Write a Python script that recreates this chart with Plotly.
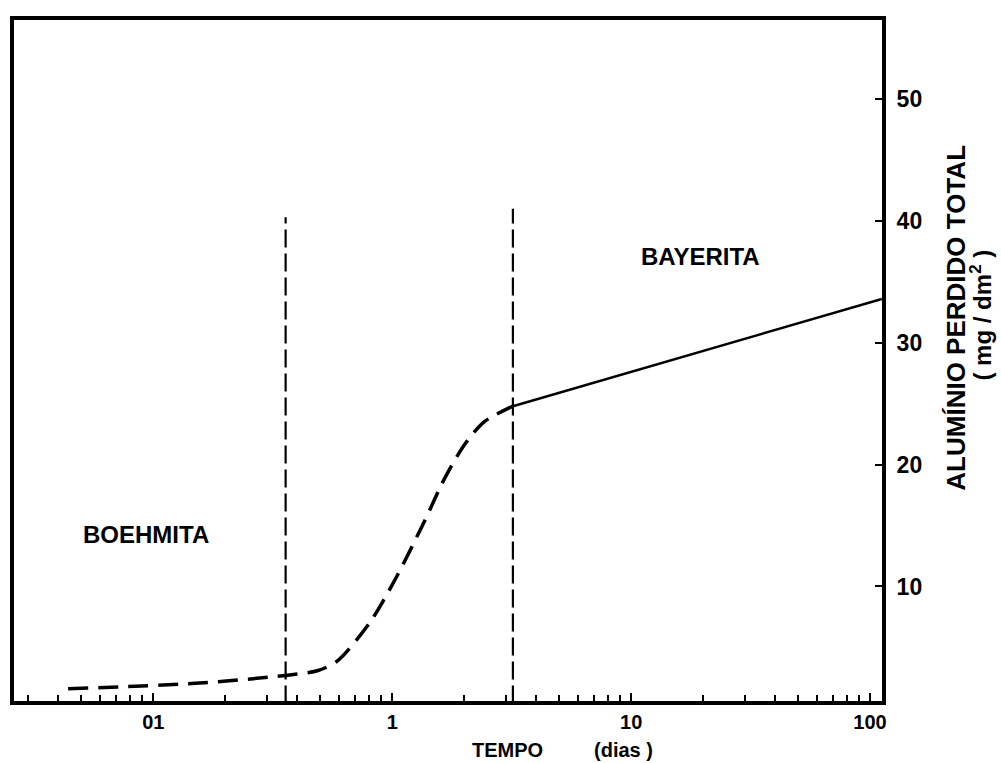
import plotly.graph_objects as go

# Data
dashed_x = [0.044, 0.15, 0.358, 0.49, 0.59, 0.81, 1.05, 1.36, 1.66, 2.0, 2.42, 3.2]
dashed_y = [1.6, 2.05, 2.7, 3.1, 3.9, 7.1, 10.9, 15.3, 18.9, 21.6, 23.5, 24.8]
solid_x = [3.2, 112]
solid_y = [24.8, 33.6]
boundary1_x = [0.358, 0.358]
boundary1_y = [0.4, 40.3]
boundary2_x = [3.2, 3.2]
boundary2_y = [0.4, 41.0]

major_ticks = [0.1, 1, 10, 100]
major_labels = ["01", "1", "10", "100"]
minor_ticks = [0.03, 0.04, 0.05, 0.06, 0.07, 0.08, 0.09,
               0.2, 0.3, 0.4, 0.5, 0.6, 0.7, 0.8, 0.9,
               2, 3, 4, 5, 6, 7, 8, 9,
               20, 30, 40, 50, 60, 70, 80, 90]
y_ticks = [10, 20, 30, 40, 50]

FONT = "Liberation Sans"
TOP, BOTTOM = 20, 62
PH = 763 - TOP - BOTTOM
AXIS_Y = 763 - BOTTOM

fig = go.Figure()
fig.add_trace(go.Scatter(x=boundary1_x, y=boundary1_y, mode="lines",
                         line=dict(color="black", width=2.2, dash="18px,6px"), showlegend=False))
fig.add_trace(go.Scatter(x=boundary2_x, y=boundary2_y, mode="lines",
                         line=dict(color="black", width=2.2, dash="18px,6px"), showlegend=False))
fig.add_trace(go.Scatter(x=dashed_x, y=dashed_y, mode="lines",
                         line=dict(color="black", width=3.5, dash="20px,10px", shape="spline", smoothing=0.8),
                         showlegend=False))
fig.add_trace(go.Scatter(x=solid_x, y=solid_y, mode="lines",
                         line=dict(color="black", width=2.5), showlegend=False))

x_tick_font = dict(family=FONT, size=20, color="black", weight="bold")
y_tick_font = dict(family=FONT, size=23, color="black", weight="bold")

fig.update_layout(
    width=1001, height=763,
    margin=dict(l=10, r=119, t=TOP, b=BOTTOM),
    plot_bgcolor="white", paper_bgcolor="white",
    font=dict(family=FONT, color="black", size=16),
    xaxis=dict(type="log", range=[-1.583, 2.05], showgrid=False, zeroline=False,
               showline=True, linewidth=4, linecolor="black", mirror=True,
               ticks="inside", ticklen=8, tickwidth=2, tickcolor="black",
               tickvals=major_ticks, ticktext=major_labels, ticklabelstandoff=0,
               tickfont=x_tick_font,
               minor=dict(tickvals=minor_ticks, ticks="inside", ticklen=6, tickwidth=2,
                          tickcolor="black", showgrid=False)),
    yaxis=dict(range=[0.6, 56.5], side="right", showgrid=False, zeroline=False,
               showline=True, linewidth=4, linecolor="black", mirror=True,
               ticks="inside", ticklen=7, tickwidth=2, tickcolor="black",
               tickvals=y_ticks, ticklabelstandoff=6,
               tickfont=y_tick_font),
)

ann_font = dict(family=FONT, size=24, color="black", weight="bold")
bottom_font = dict(family=FONT, size=20, color="black", weight="bold")
fig.add_annotation(x=-1.03, y=14.3, xref="x", yref="y", text="BOEHMITA", showarrow=False,
                   font=ann_font, xanchor="center", yanchor="middle")
fig.add_annotation(x=1.29, y=37.1, xref="x", yref="y", text="BAYERITA", showarrow=False,
                   font=ann_font, xanchor="center", yanchor="middle")
fig.add_annotation(x=(506 - 10) / 872, y=-(750 - AXIS_Y) / PH, xref="paper", yref="paper",
                   text="TEMPO", showarrow=False, font=bottom_font,
                   xanchor="center", yanchor="middle")
fig.add_annotation(x=(622 - 10) / 872, y=-(750 - AXIS_Y) / PH, xref="paper", yref="paper",
                   text="(dias )", showarrow=False, font=bottom_font,
                   xanchor="center", yanchor="middle")
fig.add_annotation(x=(956 - 10) / 872, y=(AXIS_Y - 318) / PH, xref="paper", yref="paper",
                   text="ALUMÍNIO PERDIDO TOTAL", textangle=-90, showarrow=False,
                   xanchor="center", yanchor="middle",
                   font=dict(family=FONT, size=26, color="black", weight="bold"))
fig.add_annotation(x=(981 - 10) / 872, y=(AXIS_Y - 315) / PH, xref="paper", yref="paper",
                   text="( mg / dm<sup>2</sup> )", textangle=-90, showarrow=False,
                   xanchor="center", yanchor="middle",
                   font=dict(family=FONT, size=24, color="black", weight="bold"))

fig.write_html("out.html")
